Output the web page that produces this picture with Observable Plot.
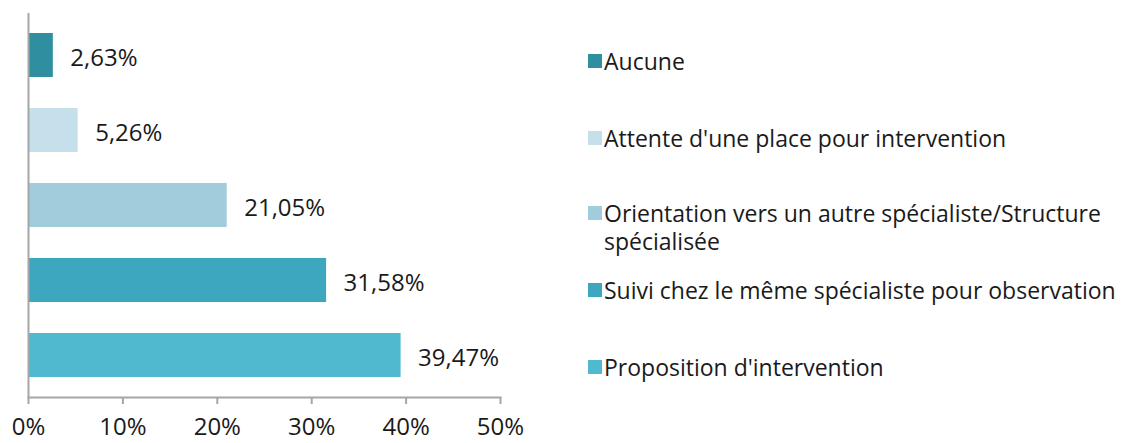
<!DOCTYPE html>
<html><head><meta charset="utf-8">
<script src="https://cdn.jsdelivr.net/npm/d3@7"></script>
<script src="https://cdn.jsdelivr.net/npm/@observablehq/plot@0.6"></script>
<style>
body{margin:0;background:#fff;font-family:"Open Sans","DejaVu Sans",sans-serif;}
#wrap{position:relative;width:1122px;height:443px;}
#chart{position:absolute;left:0;top:0;}
#legend{position:absolute;left:588px;top:0;}
.item{position:absolute;left:0;display:flex;align-items:flex-start;font-size:23px;color:#1a1a1a;line-height:28px;width:540px;}
.sw{width:14px;height:14px;margin-top:7px;margin-right:2px;flex:none;}
</style></head><body>
<div id="wrap"><div id="chart"></div><div id="legend"></div></div>
<script>
const categories = ["Aucune","Attente d'une place pour intervention","Orientation vers un autre spécialiste/Structure spécialisée","Suivi chez le même spécialiste pour observation","Proposition d'intervention"];
const values = [2.63, 5.26, 21.05, 31.58, 39.47];
const colors = ["#2F8E9F","#C6E0EB","#A0CCDC","#3DA7BF","#50B9D0"];
const xTicks = [0,10,20,30,40,50];

const data = categories.map((c,i)=>({cat:c, v:values[i]}));
const fmt = v => v.toFixed(2).replace(".", ",") + "%";
const gray = "#A6A6A6";

const plot = Plot.plot({
  width: 560, height: 443,
  marginTop: 13, marginBottom: 46, marginLeft: 28, marginRight: 60,
  style: {fontFamily: "'Open Sans', sans-serif", fontSize: "24px", color: "#1a1a1a", background: "#fff"},
  x: {domain: [0,50], ticks: xTicks, tickFormat: d => d + "%", label: null},
  y: {domain: categories, paddingInner: 0.42, paddingOuter: 0.24, axis: null, label: null},
  color: {domain: categories, range: colors},
  marks: [
    Plot.barX(data, {x: "v", y: "cat", fill: "cat"}),
    Plot.text(data, {x: "v", y: "cat", text: d => fmt(d.v), textAnchor: "start", dx: 17, dy: 3, fill: "#1a1a1a", fontSize: 24}),
    Plot.frame({anchor: "bottom", stroke: gray, strokeWidth: 2}),
    Plot.ruleX([0], {stroke: gray, strokeWidth: 2}),
    Plot.axisX({ticks: xTicks, tickFormat: d => d + "%", tickSize: 7, tickPadding: 13, stroke: gray, strokeWidth: 2, fontSize: 24, fill: "#1a1a1a", label: null})
  ]
});
document.getElementById("chart").appendChild(plot);

const tops = [47, 124, 199, 276, 353];
const leg = document.getElementById("legend");
categories.forEach((c,i)=>{
  const it = document.createElement("div");
  it.className = "item";
  it.style.top = tops[i] + "px";
  const sw = document.createElement("div");
  sw.className = "sw"; sw.style.background = colors[i];
  const t = document.createElement("div");
  t.textContent = c; t.style.maxWidth = "520px";
  it.appendChild(sw); it.appendChild(t);
  leg.appendChild(it);
});
</script></body></html>
